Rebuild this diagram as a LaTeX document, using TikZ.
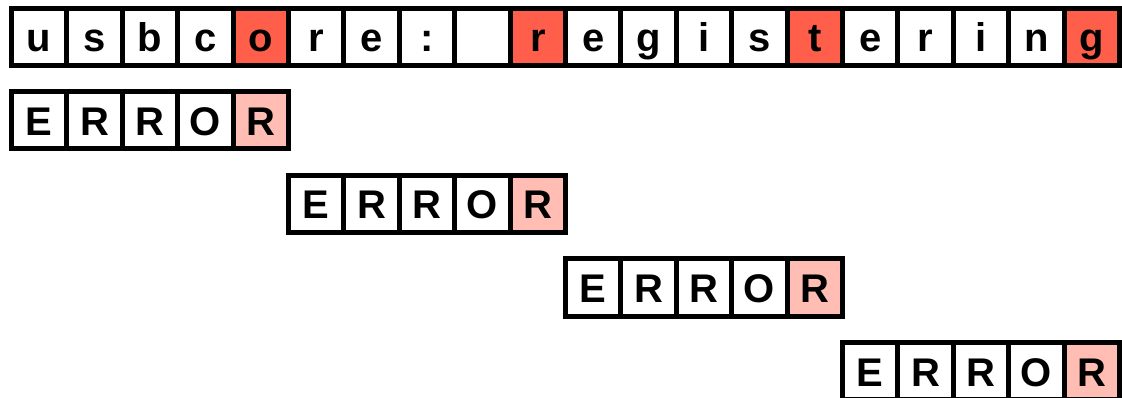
\documentclass[tikz,border=0pt]{standalone}
\usepackage{fontspec}
\setmainfont{Liberation Sans}
\definecolor{hot}{HTML}{FF5E4A}
\definecolor{soft}{HTML}{FFBDB3}
\begin{document}
\begin{tikzpicture}[x=1pt,y=1pt,
  cell/.style={draw, line width=5pt, minimum width=55.4pt, minimum height=57pt,
    inner sep=0pt, outer sep=0pt, anchor=north west,
    font=\fontsize{40}{40}\selectfont\bfseries, text height=30pt, text depth=0pt},
  hotcell/.style={cell, fill=hot},
  softcell/.style={cell, fill=soft}]
\useasboundingbox (0,0) rectangle (1122,-398);
\clip (0,0) rectangle (1122,-398);
% the message, one character per cell; every fifth cell is marked
\foreach \ch [count=\i from 0] in {u,s,b,c,o,r,e,:,{},r,e,g,i,s,t,e,r,i,n,g}{
  \pgfmathtruncatemacro\m{mod(\i,5)}
  \ifnum\m=4 \tikzset{cur/.style={hotcell}}\else\tikzset{cur/.style={cell}}\fi
  \node[cur] (top-\i) at ({11.5+55.4*\i},-8.5) {\ch};
}
% the ERROR word repeated, shifted by five cells per row
\foreach \j in {1,...,4}{
  \foreach \ch [count=\k from 0] in {E,R,R,O,R}{
    \pgfmathtruncatemacro\c{5*(\j-1)+\k}
    \ifnum\k=4 \tikzset{cur/.style={softcell}}\else\tikzset{cur/.style={cell}}\fi
    \node[cur] (err\j-\k) at ({11.5+55.4*\c},{-8.5-83.5*\j}) {\ch};
  }
}
\end{tikzpicture}
\end{document}
